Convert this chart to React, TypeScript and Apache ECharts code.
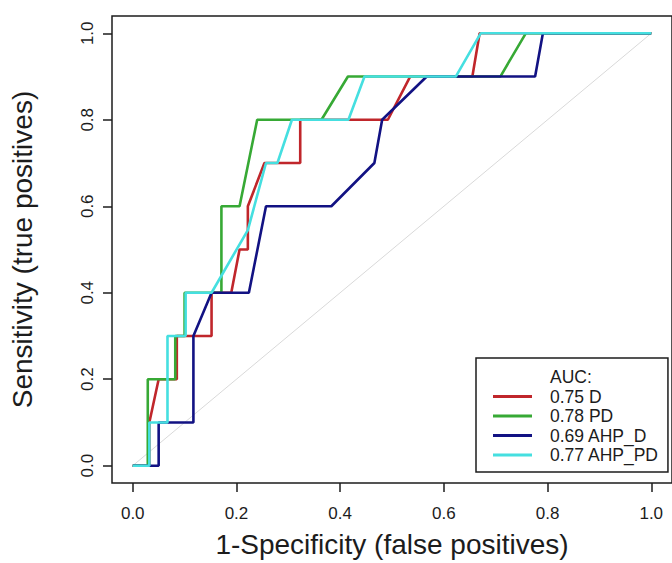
import React, { useEffect, useRef } from "react";
import * as echarts from "echarts";

const tickValues = [0, 0.2, 0.4, 0.6, 0.8, 1.0];
const seriesNames = ["0.75 D", "0.78 PD", "0.69 AHP_D", "0.77 AHP_PD"];
const seriesColors = ["#c0262b", "#37a935", "#121283", "#45dfe0"];

const curveD = [
  [0, 0], [0.032, 0], [0.032, 0.1], [0.05, 0.2], [0.085, 0.2], [0.085, 0.3],
  [0.152, 0.3], [0.152, 0.4], [0.19, 0.4], [0.206, 0.5], [0.222, 0.5],
  [0.222, 0.6], [0.254, 0.7], [0.323, 0.7], [0.323, 0.8], [0.492, 0.8],
  [0.535, 0.9], [0.655, 0.9], [0.669, 1.0], [1.0, 1.0],
];
const curvePD = [
  [0, 0], [0.029, 0], [0.029, 0.2], [0.082, 0.2], [0.082, 0.3], [0.1, 0.3],
  [0.1, 0.4], [0.171, 0.4], [0.171, 0.6], [0.206, 0.6], [0.24, 0.8],
  [0.364, 0.8], [0.415, 0.9], [0.709, 0.9], [0.758, 1.0], [1.0, 1.0],
];
const curveAHPD = [
  [0, 0], [0.05, 0], [0.05, 0.1], [0.117, 0.1], [0.117, 0.3], [0.152, 0.4],
  [0.224, 0.4], [0.257, 0.6], [0.383, 0.6], [0.466, 0.7], [0.481, 0.8],
  [0.567, 0.9], [0.776, 0.9], [0.791, 1.0], [1.0, 1.0],
];
const curveAHPPD = [
  [0, 0], [0.032, 0], [0.032, 0.1], [0.067, 0.1], [0.067, 0.3], [0.102, 0.3],
  [0.102, 0.4], [0.152, 0.4], [0.222, 0.545], [0.257, 0.7], [0.279, 0.7],
  [0.307, 0.8], [0.416, 0.8], [0.447, 0.9], [0.623, 0.9], [0.671, 1.0],
  [1.0, 1.0],
];
const diagonal = [[0, 0], [1, 1]];
const curves = [curveD, curvePD, curveAHPD, curveAHPPD];

const legendTitle = "AUC:";
const xTitle = "1-Specificity (false positives)";
const yTitle = "Sensitivity (true positives)";

const FONT = '"Liberation Sans", Arial, Helvetica, sans-serif';
const INK = "#1c1c1c";

export default function App() {
  const ref = useRef<HTMLDivElement>(null);

  useEffect(() => {
    document.body.style.margin = "0";
    const chart = echarts.init(ref.current!, null, { renderer: "svg" });
    const axisCommon = {
      type: "value",
      min: -0.04,
      max: 1.04,
      splitLine: { show: false },
      axisLine: { show: false, onZero: false },
      axisTick: {
        show: true,
        inside: false,
        length: 9,
        customValues: tickValues,
        lineStyle: { color: INK, width: 1.5 },
      },
      nameLocation: "middle",
      nameTextStyle: { fontFamily: FONT, fontSize: 28, color: INK },
    };
    const option: any = {
      animation: false,
      backgroundColor: "#ffffff",
      grid: {
        show: true,
        left: 112,
        top: 16,
        width: 569,
        height: 467,
        borderColor: INK,
        borderWidth: 1.5,
        backgroundColor: "transparent",
      },
      xAxis: {
        ...axisCommon,
        position: "bottom",
        name: xTitle,
        nameGap: 47,
        axisLabel: {
          customValues: tickValues,
          formatter: (v: number) => v.toFixed(1),
          fontFamily: FONT,
          fontSize: 17,
          color: INK,
          margin: 22,
        },
      },
      yAxis: {
        ...axisCommon,
        position: "left",
        name: yTitle,
        nameGap: 76,
        nameRotate: 90,
        axisLabel: {
          customValues: tickValues,
          formatter: (v: number) => v.toFixed(1),
          fontFamily: FONT,
          fontSize: 17,
          color: INK,
          rotate: 90,
          margin: 16,
          align: "center",
          verticalAlign: "bottom",
        },
      },
      legend: {
        orient: "vertical",
        left: 476,
        top: 358,
        padding: [10, 9, 8, 17],
        borderColor: INK,
        borderWidth: 1.5,
        backgroundColor: "#ffffff",
        itemWidth: 52,
        itemHeight: 3,
        itemGap: 1.5,
        icon: "path://M0,0L39,0L39,3L0,3ZM52,0L52,3",
        itemStyle: { borderWidth: 0 },
        textStyle: { fontFamily: FONT, fontSize: 17.5, color: INK, lineHeight: 18 },
        data: [{ name: legendTitle, icon: "none" }, ...seriesNames],
      },
      series: [
        {
          type: "line",
          data: diagonal,
          symbol: "none",
          silent: true,
          lineStyle: { color: "#d9d9d9", width: 1 },
          z: 1,
        },
        { type: "line", name: legendTitle, data: [], symbol: "none" },
        ...curves.map((c, i) => ({
          type: "line",
          name: seriesNames[i],
          data: c,
          symbol: "none",
          showSymbol: false,
          color: seriesColors[i],
          itemStyle: { color: seriesColors[i] },
          lineStyle: { color: seriesColors[i], width: 2.6 },
          z: 2 + i,
        })),
      ],
    };
    chart.setOption(option);
    return () => chart.dispose();
  }, []);

  return (
    <div
      ref={ref}
      style={{ position: "fixed", left: 0, top: 0, width: 672, height: 563, background: "#fff" }}
    />
  );
}
